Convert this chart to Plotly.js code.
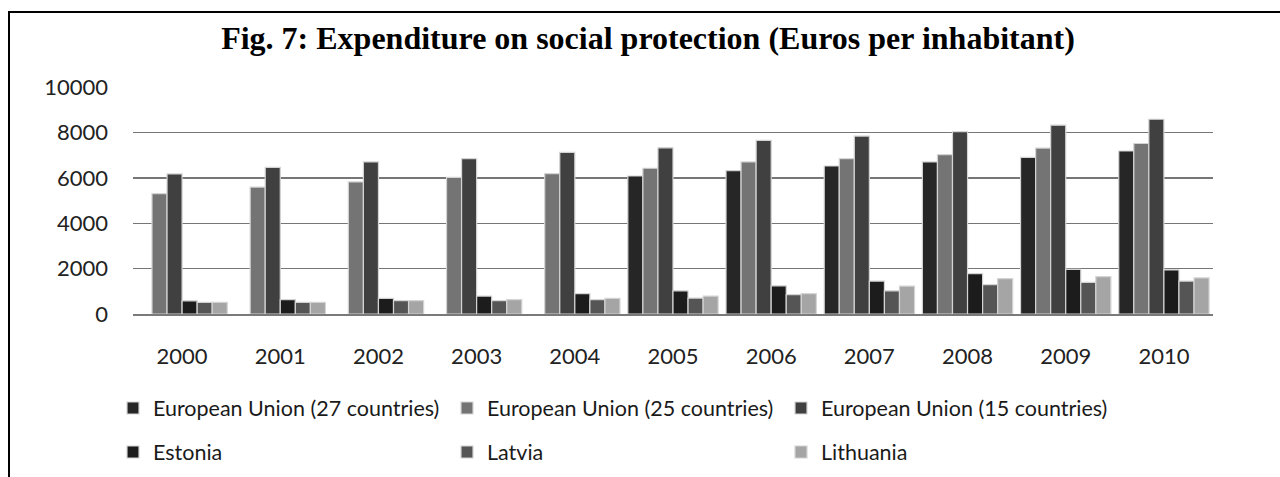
<!DOCTYPE html>
<html>
<head>
<meta charset="utf-8">
<script src="https://cdn.plot.ly/plotly-3.0.1.min.js"></script>
<style>
  html, body { margin:0; padding:0; background:#fff; }
  #wrap { position:relative; width:1280px; height:477px; overflow:hidden; }
  #chart { position:absolute; left:0; top:0; width:1280px; height:477px; }
  #frame { position:absolute; left:8px; top:11px; width:1300px; height:500px;
           border-top:2px solid #000; border-left:2px solid #000; pointer-events:none; }
</style>
</head>
<body>
<div id="wrap">
  <div id="chart"></div>
  <div id="frame"></div>
</div>
<script>
const years = ['2000','2001','2002','2003','2004','2005','2006','2007','2008','2009','2010'];
const eu27 = [null, null, null, null, null, 6080, 6310, 6520, 6700, 6900, 7180];
const eu25 = [5300, 5590, 5820, 6020, 6180, 6420, 6700, 6840, 7020, 7310, 7510];
const eu15 = [6170, 6460, 6700, 6840, 7120, 7320, 7650, 7840, 8030, 8320, 8580];
const estonia = [580, 630, 690, 790, 900, 1020, 1240, 1450, 1780, 1970, 1940];
const latvia = [510, 510, 585, 585, 630, 700, 850, 1020, 1290, 1390, 1450];
const lithuania = [510, 510, 585, 630, 690, 790, 900, 1230, 1560, 1650, 1590];
const seriesNames = ['European Union (27 countries)', 'European Union (25 countries)', 'European Union (15 countries)', 'Estonia', 'Latvia', 'Lithuania'];
const seriesColors = ['#262626', '#747474', '#404040', '#1c1c1c', '#555555', '#a5a5a5'];
const seriesData = [eu27, eu25, eu15, estonia, latvia, lithuania];
const legendIds = ['legend', 'legend', 'legend', 'legend2', 'legend2', 'legend2'];

const traces = seriesData.map((vals, i) => ({
  type: 'bar',
  x: years,
  y: vals,
  name: seriesNames[i],
  legend: legendIds[i],
  marker: { color: seriesColors[i], line: { color: '#d4d4d4', width: 1.2 } },
  hoverinfo: 'x+y+name'
}));

const legendCommon = {
  orientation: 'h',
  xref: 'container', yref: 'container',
  x: 113/1280,
  xanchor: 'left', yanchor: 'middle',
  entrywidth: 289, entrywidthmode: 'pixels',
  itemwidth: 30,
  font: { family: 'Lato, sans-serif', size: 21.5, color: '#1a1a1a' },
  bgcolor: 'rgba(0,0,0,0)',
  traceorder: 'normal'
};

const layout = {
  width: 1280, height: 477,
  paper_bgcolor: '#fff', plot_bgcolor: '#fff',
  margin: { l: 133, r: 67, t: 86.5, b: 163, pad: 0 },
  title: {
    text: '<b>Fig. 7: Expenditure on social protection (Euros per inhabitant)</b>',
    font: { family: '"Liberation Serif", "Times New Roman", serif', size: 32, color: '#000' },
    xref: 'container', yref: 'container',
    x: 648/1280, xanchor: 'center',
    y: 1 - 37.5/477, yanchor: 'middle'
  },
  barmode: 'group',
  bargap: 0.08,
  bargroupgap: 0,
  xaxis: {
    type: 'category',
    showgrid: false,
    showline: true, linecolor: '#7a7a7a', linewidth: 1.6,
    ticks: '',
    ticklabelstandoff: 22,
    tickfont: { family: 'Lato, sans-serif', size: 22, color: '#222' }
  },
  yaxis: {
    range: [0, 10000],
    tickvals: [0, 2000, 4000, 6000, 8000, 10000],
    ticktext: ['0', '2000', '4000', '6000', '8000', '10000'],
    showgrid: true, gridcolor: '#767676', gridwidth: 1.4,
    zeroline: false,
    showline: false,
    ticks: '',
    ticklabelstandoff: 24,
    tickfont: { family: 'Lato, sans-serif', size: 22, color: '#222' }
  },
  legend: Object.assign({}, legendCommon, { y: 1 - 408/477 }),
  legend2: Object.assign({}, legendCommon, { y: 1 - 452/477 }),
  showlegend: true
};

Plotly.newPlot('chart', traces, layout, { staticPlot: true, displayModeBar: false });
</script>
</body>
</html>
